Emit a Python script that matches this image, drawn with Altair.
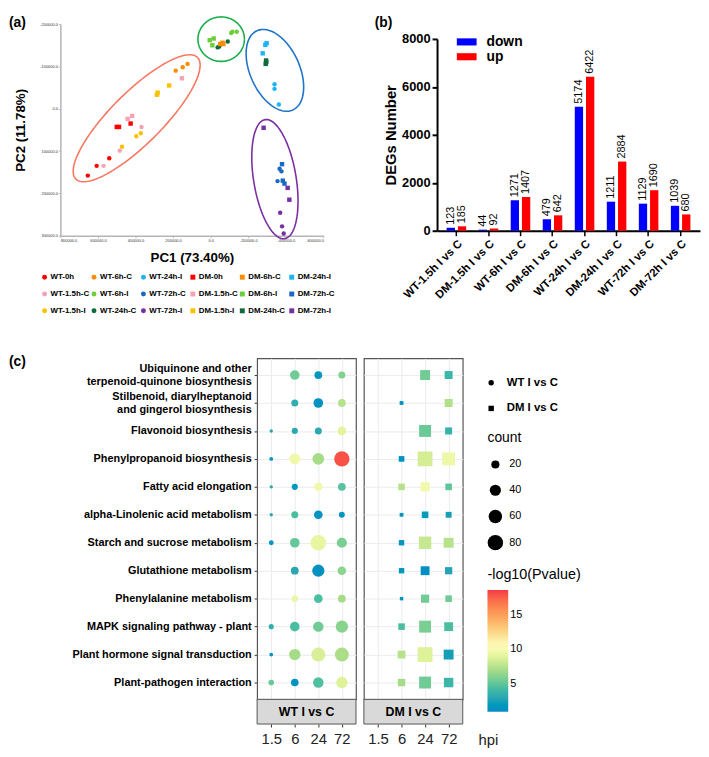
import numpy as np
import pandas as pd
import altair as alt

FONT = "Liberation Sans"

# ---------------- (a) PCA ----------------
pca_groups = ["WT-0h", "WT-1.5h-C", "WT-1.5h-I", "WT-6h-C", "WT-6h-I", "WT-24h-C",
              "WT-24h-I", "WT-72h-C", "WT-72h-I", "DM-0h", "DM-1.5h-C", "DM-1.5h-I",
              "DM-6h-C", "DM-6h-I", "DM-24h-C", "DM-24h-I", "DM-72h-C", "DM-72h-I"]
pca_pc1 = [[654000, 607000, 540000], [570000, 484000, 368000], [472000, 396000, 372000],
           [186000, 149000, 123000], [-109000, -116000, -139000], [-37000, -46000, -91000],
           [-340000, -340000, -363000], [-356000, -367000, -377000], [-370000, -380000, -389000],
           [500000, 488000, 426000], [442000, 418000, 153000], [286000, 282000, 221000],
           [-51000, -63000, -68000], [5000, -16000, -9000], [-295000, -293000, -296000],
           [-291000, -298000, -277000], [-380000, -384000, -393000], [-282000, -410000, -419000]]
pca_pc2 = [[158000, 135000, 117000], [135000, 99000, 43000], [90000, 65000, 58000],
           [-90000, -98000, -106000], [-179000, -182000, -182000], [-145000, -147000, -159000],
           [-58000, -47000, -10000], [171000, 142000, 148000], [246000, 278000, 295000],
           [43000, 43000, 35000], [24000, 17000, -72000], [-33000, -38000, -55000],
           [-153000, -156000, -153000], [-162000, -166000, -150000], [-114000, -106000, -110000],
           [-151000, -155000, -131000], [131000, 170000, 177000], [45000, 187000, 215000]]
cond_colors = {"0h": "#ff0000", "1.5h-C": "#f5a3b5", "1.5h-I": "#ffc000", "6h-C": "#ff8c00",
               "6h-I": "#6ccf3a", "24h-C": "#0d6b3c", "24h-I": "#1cb4f3", "72h-C": "#1a68c6",
               "72h-I": "#7530a2"}
# the legend grid is filled column by column
legend_order = pca_groups
# cluster ellipses: centre (data units), semi-axes (px), screen angle (deg)
ell_cx = [394000, -56000, -342000, -342000]
ell_cy = [22500, -164500, -90700, 166400]
ell_a = [87, 23.5, 44, 61]
ell_b = [26, 22.5, 25, 21.5]
ell_ang = [-45, 0, 65.7, 80.7]
ell_col = ["#f8775f", "#1aaf4b", "#1f74c9", "#7b2fa3"]

A_W, A_H = 266, 214
XPX = 1400000 / A_W
YPX = 500000 / A_H

rows = []
for g, xs, ys in zip(pca_groups, pca_pc1, pca_pc2):
    for xv, yv in zip(xs, ys):
        rows.append({"group": g, "pc1": xv, "pc2": yv})
pca_df = pd.DataFrame(rows)

col_range = [cond_colors[g.split("-", 1)[1]] for g in legend_order]
shape_range = ["circle" if g.startswith("WT") else "square" for g in legend_order]

axA_common = dict(domainColor="#b5b5b5", domainWidth=1.5, tickColor="#b5b5b5", tickSize=2,
                  labelFontSize=4, labelColor="#333333", labelPadding=1, grid=False,
                  titleFontSize=13.5, titleFontWeight="bold", titleColor="black",
                  labelExpr="datum.value + '.0'")
xA = alt.X("pc1:Q", scale=alt.Scale(domain=[-600000, 800000], reverse=True, nice=False, zero=False),
           axis=alt.Axis(values=[800000, 600000, 400000, 200000, 0, -200000, -400000, -600000],
                         title="PC1 (73.40%)", titlePadding=8, **axA_common))
yA = alt.Y("pc2:Q", scale=alt.Scale(domain=[-200000, 300000], reverse=True, nice=False, zero=False),
           axis=alt.Axis(values=[-200000, -100000, 0, 100000, 200000, 300000],
                         title="PC2 (11.78%)", titlePadding=12, **axA_common))
legA = alt.Legend(orient="none", legendX=-20, legendY=252, columns=6, title=None, symbolSize=25,
                  symbolStrokeWidth=0, labelFontSize=8, labelFontWeight="bold", labelOffset=2,
                  columnPadding=0, rowPadding=9, gridAlign="all", padding=0, labelLimit=100)
ptsA = alt.Chart(pca_df).mark_point(filled=True, size=20, opacity=1).encode(
    x=xA, y=yA,
    color=alt.Color("group:N", scale=alt.Scale(domain=legend_order, range=col_range), legend=legA),
    shape=alt.Shape("group:N", scale=alt.Scale(domain=legend_order, range=shape_range), legend=legA),
)
layersA = [ptsA]
for k in range(len(ell_cx)):
    t = np.linspace(0, 2 * np.pi, 121)
    ex, ey = ell_a[k] * np.cos(t), ell_b[k] * np.sin(t)
    r = np.deg2rad(ell_ang[k])
    sx = ex * np.cos(r) - ey * np.sin(r)
    sy = ex * np.sin(r) + ey * np.cos(r)
    edf = pd.DataFrame({"pc1": ell_cx[k] - sx * XPX, "pc2": ell_cy[k] + sy * YPX, "i": np.arange(len(t))})
    layersA.append(alt.Chart(edf).mark_line(color=ell_col[k], strokeWidth=1.6).encode(
        x=xA, y=yA, order="i:Q"))
tagA = alt.Chart(pd.DataFrame({"t": ["(a)"]})).mark_text(
    align="left", baseline="top", fontSize=14, fontWeight="bold").encode(
    x=alt.value(-52), y=alt.value(-8), text="t:N")
layersA.append(tagA)
chartA = alt.layer(*layersA).properties(width=A_W, height=A_H)

# ---------------- (b) DEG numbers ----------------
deg_comp = ["WT-1.5h I vs C", "DM-1.5h I vs C", "WT-6h I vs C", "DM-6h I vs C",
            "WT-24h I vs C", "DM-24h I vs C", "WT-72h I vs C", "DM-72h I vs C"]
deg_down = [123, 44, 1271, 479, 5174, 1211, 1129, 1039]
deg_up = [185, 92, 1407, 642, 6422, 2884, 1690, 680]
deg_df = pd.DataFrame({"comp": deg_comp * 2, "dir": ["down"] * 8 + ["up"] * 8, "n": deg_down + deg_up})

legB = alt.Legend(orient="none", legendX=22, legendY=-5, title=None,
                  symbolType="M-1.25,-0.45H1.25V0.45H-1.25Z", symbolSize=256, symbolStrokeWidth=0,
                  labelFontSize=14, labelFontWeight="bold", labelOffset=12, rowPadding=0, padding=0)
baseB = alt.Chart(deg_df).encode(
    x=alt.X("comp:N", sort=deg_comp, scale=alt.Scale(paddingInner=0.39, paddingOuter=0.3),
            axis=alt.Axis(title=None, labelAngle=315, labelFontSize=11.5, labelFontWeight="bold",
                          labelColor="black", domainColor="black", domainWidth=2, tickColor="black",
                          tickWidth=1.5, tickSize=5, labelPadding=2)),
    xOffset=alt.XOffset("dir:N", sort=["down", "up"], scale=alt.Scale(paddingInner=0.26)),
    y=alt.Y("n:Q", scale=alt.Scale(domain=[0, 8000], nice=False),
            axis=alt.Axis(values=[0, 2000, 4000, 6000, 8000], format="d", title="DEGs Number",
                          titleFontSize=15, titleFontWeight="bold", titleColor="black", titlePadding=3,
                          labelFontSize=13, labelFontWeight="bold", labelColor="black", labelPadding=2,
                          domainColor="black", domainWidth=2, tickColor="black", tickWidth=2,
                          tickSize=5, grid=False)),
)
barsB = baseB.mark_bar().encode(
    color=alt.Color("dir:N", scale=alt.Scale(domain=["down", "up"], range=["#0000ff", "#ff0000"]), legend=legB))
numsB = baseB.mark_text(angle=270, align="left", baseline="middle", dx=3, fontSize=11, color="black").encode(
    text=alt.Text("n:Q", format="d"))
tagB = alt.Chart(pd.DataFrame({"t": ["(b)"]})).mark_text(
    align="left", baseline="top", fontSize=14, fontWeight="bold").encode(
    x=alt.value(-63), y=alt.value(-23), text="t:N")
chartB = alt.layer(barsB, numsB, tagB).properties(width=266, height=194)

res = dict(color="independent", shape="independent", size="independent")

spacer_df = pd.DataFrame({"v": [0]})
spacerB = alt.Chart(spacer_df).mark_point(opacity=0).encode(
    x=alt.value(0), y=alt.value(0)).properties(width=266, height=1)
groupB = alt.vconcat(spacerB, chartB, spacing=14, bounds="flush").resolve_scale(**res)

# ---------------- (c) KEGG bubbles ----------------
pathways = ["Ubiquinone and other\nterpenoid-quinone biosynthesis",
            "Stilbenoid, diarylheptanoid\nand gingerol biosynthesis",
            "Flavonoid biosynthesis", "Phenylpropanoid biosynthesis", "Fatty acid elongation",
            "alpha-Linolenic acid metabolism", "Starch and sucrose metabolism",
            "Glutathione metabolism", "Phenylalanine metabolism",
            "MAPK signaling pathway - plant", "Plant hormone signal transduction",
            "Plant-pathogen interaction"]
hpi_labels = ["1.5", "6", "24", "72"]
wt_count = [[None, 29, 18, 14], [None, 14, 29, 18], [1, 10, 14, 23], [2, 38, 45, 78],
            [1, 10, 20, 18], [1, 14, 23, 9], [5, 29, 80, 33], [None, 18, 49, 23],
            [None, 11, 23, 18], [6, 29, 35, 49], [2, 42, 65, 65], [8, 17, 35, 42]]
wt_value = [[None, 5.5, 1.8, 6.0], [None, 3.5, 1.5, 7.5], [3.0, 3.2, 3.2, 9.0], [1.5, 9.6, 7.0, 18.0],
            [3.0, 2.0, 9.5, 4.8], [3.0, 4.5, 1.5, 1.6], [1.8, 5.2, 9.2, 5.8], [None, 3.0, 1.4, 6.3],
            [None, 9.3, 4.5, 7.0], [3.5, 4.5, 5.5, 6.2], [1.5, 7.0, 8.6, 7.2], [5.3, 1.5, 4.6, 8.8]]
dm_count = [[None, None, 31, 19], [None, 2, None, 19], [None, None, 46, 14], [None, 8, 73, 54],
            [None, 12, 26, 12], [None, 2, 12, 9], [None, 7, 50, 31], [None, 7, 24, 15],
            [None, 1, 20, 12], [None, 12, 46, 24], [None, 18, 73, 31], [None, 16, 46, 28]]
dm_value = [[None, None, 5.5, 4.0], [None, 1.5, None, 7.3], [None, None, 5.3, 3.8], [None, 1.5, 8.5, 9.5],
            [None, 7.5, 9.7, 5.0], [None, 1.8, 2.2, 2.5], [None, 1.8, 8.0, 7.5], [None, 1.8, 1.3, 2.8],
            [None, 1.5, 5.5, 5.5], [None, 4.5, 5.8, 4.5], [None, 7.5, 8.8, 2.5], [None, 7.0, 5.5, 4.0]]
panels = ["WT I vs C", "DM I vs C"]
c_stops = [1, 3, 5, 7, 9, 10.5, 14, 18.6]
c_colors = ["#0b8bc4", "#2ca5b1", "#5fc59a", "#a6dc88", "#e4f49c", "#ffffbf", "#fdb56a", "#f63b48"]


def panel_df(counts, values, panel):
    out = []
    for p, cs, vs in zip(pathways, counts, values):
        for h, c, v in zip(hpi_labels, cs, vs):
            if c is not None:
                out.append({"pathway": p, "hpi": h, "count": c, "value": v, "panel": panel})
    return pd.DataFrame(out)


wt_df = panel_df(wt_count, wt_value, panels[0])
dm_df = panel_df(dm_count, dm_value, panels[1])
C_W, C_H = 100, 345


def x_c():
    return alt.X("hpi:N", sort=hpi_labels,
                 scale=alt.Scale(type="point", domain=hpi_labels, padding=0.6),
                 axis=alt.Axis(title=None, labelAngle=0, labelFontSize=15, labelColor="#222222",
                               labelPadding=5, offset=25, tickSize=3, tickColor="#333333",
                               domain=False, grid=True, gridColor="#ebebeb", gridWidth=1))


def y_c(show):
    if show:
        ax = alt.Axis(title=None, labelFontSize=11, labelFontWeight="bold", labelColor="black",
                      labelExpr="split(datum.label, '\\n')", labelLineHeight=14, labelLimit=300,
                      labelOffset={"condition": {"test": "indexof(datum.value, '\\n') >= 0", "value": -7},
                                   "value": 0},
                      tickSize=3, tickColor="#333333", labelPadding=3, domain=False,
                      grid=True, gridColor="#ebebeb", gridWidth=1)
    else:
        ax = alt.Axis(title=None, labels=False, ticks=False, domain=False,
                      grid=True, gridColor="#ebebeb", gridWidth=1)
    return alt.Y("pathway:N", sort=pathways,
                 scale=alt.Scale(type="point", domain=pathways, padding=0.6), axis=ax)


size_scale = alt.Scale(domain=[1, 80], range=[12, 245], zero=False)
color_scale = alt.Scale(domain=c_stops, range=c_colors)
shape_scale = alt.Scale(domain=panels, range=["circle", "square"])

leg_shape = alt.Legend(orient="none", legendX=123, legendY=19, title=None, symbolSize=30,
                       symbolFillColor="black", symbolStrokeColor="black", symbolStrokeWidth=0,
                       labelFontSize=11.5, labelFontWeight="bold", labelOffset=10, rowPadding=13,
                       padding=0)
leg_size = alt.Legend(orient="none", legendX=125, legendY=74, title="count", titleFontSize=14,
                      titleFontWeight="normal", titleColor="black", titlePadding=14,
                      values=[20, 40, 60, 80], symbolFillColor="black", symbolType="circle",
                      symbolStrokeWidth=0, labelFontSize=11, labelOffset=6, rowPadding=9.5,
                      gridAlign="all", padding=0)
leg_color = alt.Legend(orient="none", legendX=125, legendY=212, title="-log10(Pvalue)",
                       titleFontSize=14.5, titleFontWeight="normal", titleColor="black",
                       titlePadding=8, titleLimit=200, gradientLength=123, gradientThickness=21,
                       values=[5, 10, 15], labelFontSize=11, gradientStrokeWidth=0, padding=0)


def bubble_panel(df, panel, show_axis, with_legend):
    pts = alt.Chart(df).mark_point(filled=True, opacity=1, strokeWidth=0).encode(
        x=x_c(), y=y_c(show_axis),
        size=alt.Size("count:Q", scale=size_scale, legend=leg_size if with_legend else None),
        color=alt.Color("value:Q", scale=color_scale, legend=leg_color if with_legend else None),
        shape=alt.Shape("panel:N", scale=shape_scale, legend=leg_shape if with_legend else None),
    )
    sdf = pd.DataFrame({"label": [panel]})
    strip = alt.Chart(sdf).mark_rect(fill="#d9d9d9", stroke="#555555", strokeWidth=1).encode(
        x=alt.value(0), x2=alt.value(C_W), y=alt.value(C_H), y2=alt.value(C_H + 25))
    strip_txt = alt.Chart(sdf).mark_text(fontSize=12.5, fontWeight="bold", color="black").encode(
        x=alt.value(C_W / 2), y=alt.value(C_H + 12.5), text="label:N")
    return [pts, strip, strip_txt]


lay_wt = bubble_panel(wt_df, panels[0], True, False)
lay_wt.append(alt.Chart(pd.DataFrame({"t": ["(c)"]})).mark_text(
    align="left", baseline="top", fontSize=14, fontWeight="bold").encode(
    x=alt.value(-251), y=alt.value(-3), text="t:N"))
chartCwt = alt.layer(*lay_wt).properties(
    width=C_W, height=C_H, view=alt.ViewBackground(stroke="#555555", strokeWidth=1.2))

lay_dm = bubble_panel(dm_df, panels[1], False, True)
lay_dm.append(alt.Chart(pd.DataFrame({"t": ["hpi"]})).mark_text(
    align="center", baseline="middle", fontSize=15, color="#222222").encode(
    x=alt.value(126), y=alt.value(386), text="t:N"))
chartCdm = alt.layer(*lay_dm).properties(
    width=C_W, height=C_H, view=alt.ViewBackground(stroke="#555555", strokeWidth=1.2))

spacerC = alt.Chart(spacer_df).mark_point(opacity=0).encode(
    x=alt.value(0), y=alt.value(0)).properties(width=191, height=1)

row1 = alt.hconcat(chartA, groupB, spacing=115, bounds="flush").resolve_scale(**res)
row2 = alt.hconcat(spacerC, chartCwt, chartCdm, spacing=8, bounds="flush").resolve_scale(**res)

chart = (alt.vconcat(row1, row2, spacing=338, bounds="flush")
         .resolve_scale(**res)
         .properties(padding=0, background="white")
         .configure(font=FONT)
         .configure_view(stroke="transparent"))

chart.save("out.html", embed_options={"renderer": "svg", "actions": False})
